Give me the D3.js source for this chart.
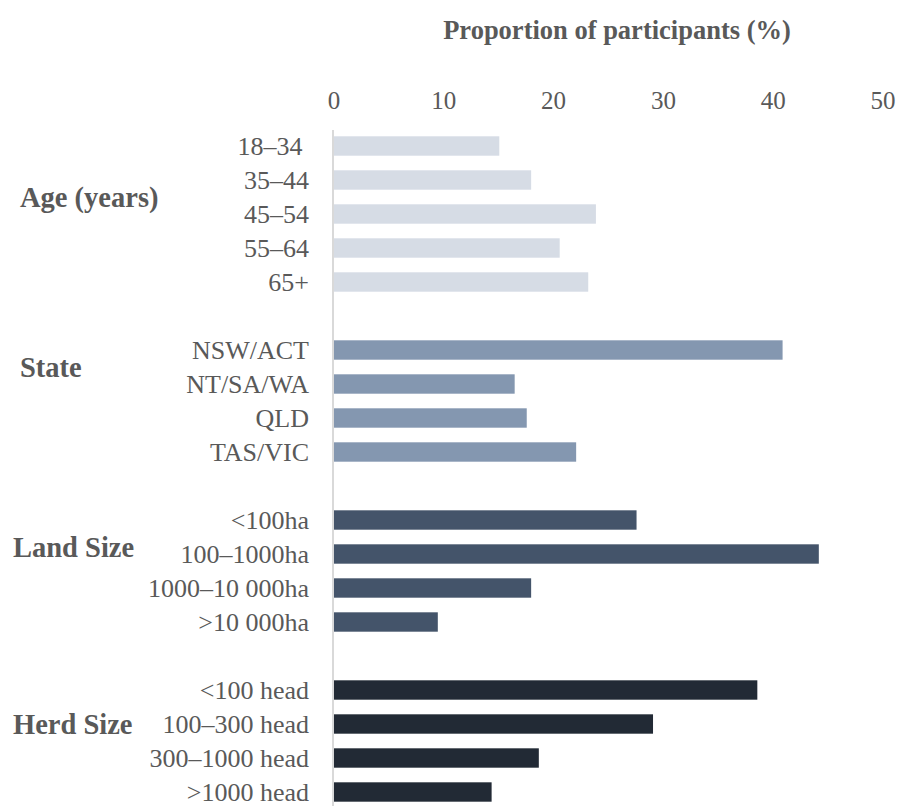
<!DOCTYPE html>
<html>
<head>
<meta charset="utf-8">
<script src="https://cdn.jsdelivr.net/npm/d3@7"></script>
<style>
  html, body { margin: 0; padding: 0; background: #fff; }
  svg { display: block; }
  text { font-family: "Liberation Serif", "Times New Roman", serif; }
</style>
</head>
<body>
<svg id="chart" width="902" height="806"></svg>
<script>
// Participant profile: share of participants (%) in each category
const groups = ["Age (years)", "State", "Land Size", "Herd Size"];
const ageCategories = ["18–34 ", "35–44", "45–54", "55–64", "65+"];
const ageValues = [15.1, 18.0, 23.9, 20.6, 23.2];
const stateCategories = ["NSW/ACT", "NT/SA/WA", "QLD", "TAS/VIC"];
const stateValues = [40.9, 16.5, 17.6, 22.1];
const landCategories = ["<100ha", "100–1000ha", "1000–10 000ha", ">10 000ha"];
const landValues = [27.6, 44.2, 18.0, 9.5];
const herdCategories = ["<100 head", "100–300 head", "300–1000 head", ">1000 head"];
const herdValues = [38.6, 29.1, 18.7, 14.4];
const groupColors = ["#d6dce5", "#8497b0", "#44546a", "#222a35"];
const xTicks = [0, 10, 20, 30, 40, 50];
const axisTitle = "Proportion of participants (%)";

const groupCats = [ageCategories, stateCategories, landCategories, herdCategories];
const groupVals = [ageValues, stateValues, landValues, herdValues];

// Flatten into rows, with an empty slot between groups
const rows = [];
const slots = [];
groupCats.forEach((cats, g) => {
  if (g > 0) slots.push("gap" + g);
  cats.forEach((c, i) => {
    const key = g + ":" + c;
    slots.push(key);
    rows.push({ key, group: g, label: c, value: groupVals[g][i], index: i });
  });
});

const svg = d3.select("#chart");
const textColor = "#595959";

const x = d3.scaleLinear().domain([0, 50]).range([333.5, 882.5]);
const y = d3.scaleBand().domain(slots).range([129, 809])
  .paddingInner(0.43).paddingOuter(0.215);

// Axis title
svg.append("text")
  .attr("x", 617).attr("y", 39)
  .attr("text-anchor", "middle")
  .attr("font-size", 26.5).attr("font-weight", "bold")
  .attr("fill", textColor)
  .text(axisTitle);

// Top axis tick labels (no tick marks or domain line)
const xAxis = d3.axisTop(x).tickValues(xTicks).tickSize(0).tickPadding(0)
  .tickFormat(d3.format("d"));
const gx = svg.append("g").attr("transform", "translate(0,109)").call(xAxis);
gx.select(".domain").remove();
gx.selectAll("text")
  .attr("font-family", "'Liberation Serif', 'Times New Roman', serif")
  .attr("font-size", 25)
  .attr("fill", textColor);

// Bars
svg.append("g").selectAll("rect")
  .data(rows)
  .join("rect")
  .attr("x", x(0))
  .attr("y", d => y(d.key))
  .attr("width", d => x(d.value) - x(0))
  .attr("height", y.bandwidth())
  .attr("fill", d => groupColors[d.group]);

// Vertical category axis line
svg.append("line")
  .attr("x1", 333).attr("x2", 333)
  .attr("y1", 130).attr("y2", 806)
  .attr("stroke", "#d9d9d9").attr("stroke-width", 2);

// Category labels
svg.append("g").selectAll("text")
  .data(rows)
  .join("text")
  .attr("x", 309)
  .attr("y", d => y(d.key) + y.bandwidth() / 2)
  .attr("dy", "0.35em")
  .attr("text-anchor", "end")
  .attr("font-size", 26)
  .attr("fill", textColor)
  .style("white-space", "pre")
  .text(d => d.label);

// Group labels, placed beside their category rows
const groupLabelRow = [1.5, 0.5, 0.8, 1.0];
const groupLabelX = [20, 20, 13, 13];
svg.append("g").selectAll("text")
  .data(groups)
  .join("text")
  .attr("x", (d, g) => groupLabelX[g])
  .attr("y", (d, g) => {
    const first = y(g + ":" + groupCats[g][0]) + y.bandwidth() / 2;
    return first + groupLabelRow[g] * y.step();
  })
  .attr("dy", "0.35em")
  .attr("font-size", 28.5)
  .attr("font-weight", "bold")
  .attr("fill", textColor)
  .text(d => d);
</script>
</body>
</html>
